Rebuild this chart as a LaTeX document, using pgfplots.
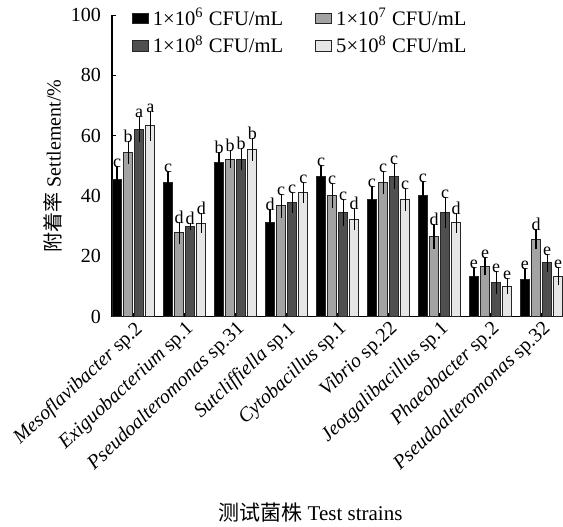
\documentclass[border=0pt]{standalone}
\usepackage{pgfplots}
\pgfplotsset{compat=1.18}
\usepackage{pgfplotstable}
\usepackage{fontspec}
\setmainfont{Liberation Serif}
\newfontfamily\cjk{Noto Sans CJK SC}
\definecolor{cA}{HTML}{000000}
\definecolor{cB}{HTML}{A3A3A3}
\definecolor{cC}{HTML}{4F4F4F}
\definecolor{cD}{HTML}{E6E6E6}

\pgfplotstableread{
x y e lab
-0.326 45.6 3.6 c
0.674 44.3 3.0 c
1.674 51.0 2.6 b
2.674 31.1 3.6 d
3.674 46.6 2.9 c
4.674 38.9 3.4 c
5.674 40.0 4.1 c
6.674 13.4 2.2 e
7.674 12.3 2.8 e
}\seriesA
\pgfplotstableread{
x y e lab
-0.109 54.4 3.0 b
0.891 27.7 2.8 d
1.891 52.2 2.1 b
2.891 36.7 3.1 c
3.891 40.0 3.3 c
4.891 44.4 3.0 c
5.891 26.6 3.2 d
6.891 16.7 2.2 e
7.891 25.7 2.5 d
}\seriesB
\pgfplotstableread{
x y e lab
0.109 62.1 3.4 a
1.109 30.0 0.3 d
2.109 52.2 2.8 b
3.109 37.8 2.6 c
4.109 34.5 3.7 c
5.109 46.6 3.4 c
6.109 34.5 4.2 c
7.109 11.2 2.9 e
8.109 17.8 2.2 e
}\seriesC
\pgfplotstableread{
x y e lab
0.326 63.2 4.0 a
1.326 31.0 2.5 d
2.326 55.5 3.0 b
3.326 41.1 2.6 c
4.326 32.2 2.8 d
5.326 38.9 3.0 c
6.326 31.1 2.4 d
7.326 10.1 1.7 e
8.326 13.4 2.2 e
}\seriesD

\pgfplotsset{
  mybar/.style={
    ybar, bar shift=0pt, bar width=0.176, draw=black!85, line width=0.5pt,
    fill=#1,
    error bars/.cd, y dir=both, y explicit,
    error bar style={line width=0.55pt, black},
    error mark options={mark size=1.3pt, line width=0.55pt, black},
    /pgfplots/.cd,
    point meta=explicit symbolic,
    visualization depends on={\thisrow{e} \as \myerr},
    nodes near coords,
    every node near coord/.append style={font=\fontsize{9}{9}\selectfont, anchor=south, inner sep=0.2pt, yshift=\myerr*1.5075pt, black},
  },
}

\begin{document}
\begin{tikzpicture}
\begin{axis}[
  name=ax,
  scale only axis,
  width=225.5pt, height=150.75pt,
  xmin=-0.425, xmax=8.42,
  ymin=0, ymax=100,
  ytick={0,20,40,60,80,100},
  xtick={0,1,2,3,4,5,6,7,8},
  xticklabels={
    {\textit{Mesoflavibacter} sp.2},
    {\textit{Exiguobacterium} sp.1},
    {\textit{Pseudoalteromonas} sp.31},
    {\textit{Sutcliffiella} sp.1},
    {\textit{Cytobacillus} sp.1},
    {\textit{Vibrio} sp.22},
    {\textit{Jeotgalibacillus} sp.1},
    {\textit{Phaeobacter} sp.2},
    {\textit{Pseudoalteromonas} sp.32}},
  axis x line*=bottom, axis y line*=left,
  axis line style={line width=0.6pt},
  tick align=inside,
  tick style={black, line width=0.5pt},
  major tick length=1.8pt,
  /pgf/number format/assume math mode=true,
  yticklabel style={font=\fontsize{10}{12}\selectfont, xshift=-2pt},
  xticklabel style={font=\fontsize{10}{12}\selectfont, rotate=43, anchor=north east, inner sep=1pt},
  ylabel={{\cjk 附着率} Settlement/\%},
  ylabel style={font=\fontsize{10}{12}\selectfont, yshift=-2.5pt},
  xlabel={{\cjk 测试菌株} Test strains},
  xlabel style={font=\fontsize{10.5}{12}\selectfont, at={(rel axis cs:0.44,0)}, anchor=center, yshift=-98pt},
  clip=false,
  legend columns=2,
  legend cell align=left,
  legend style={draw=none, fill=none, at={(rel axis cs:0.03,1.05)}, anchor=north west,
    font=\fontsize{10.3}{12}\selectfont, row sep=0pt,
    /tikz/every even column/.append style={column sep=14pt}},
  legend image code/.code={\draw[#1, line width=0.5pt] (0pt,-2.6pt) rectangle (8pt,2.6pt);},
]
\addplot[mybar=cA] table[x=x, y=y, y error=e, meta=lab] {\seriesA};
\addlegendentry{1×10\textsuperscript{6} CFU/mL}
\addplot[mybar=cB] table[x=x, y=y, y error=e, meta=lab] {\seriesB};
\addlegendentry{1×10\textsuperscript{7} CFU/mL}
\addplot[mybar=cC] table[x=x, y=y, y error=e, meta=lab] {\seriesC};
\addlegendentry{1×10\textsuperscript{8} CFU/mL}
\addplot[mybar=cD] table[x=x, y=y, y error=e, meta=lab] {\seriesD};
\addlegendentry{5×10\textsuperscript{8} CFU/mL}
\end{axis}
\pgfresetboundingbox
\path[use as bounding box] ([shift={(-56pt,-104.75pt)}]ax.south west) rectangle ([shift={(0pt,7.5pt)}]ax.north east);
\end{tikzpicture}
\end{document}
